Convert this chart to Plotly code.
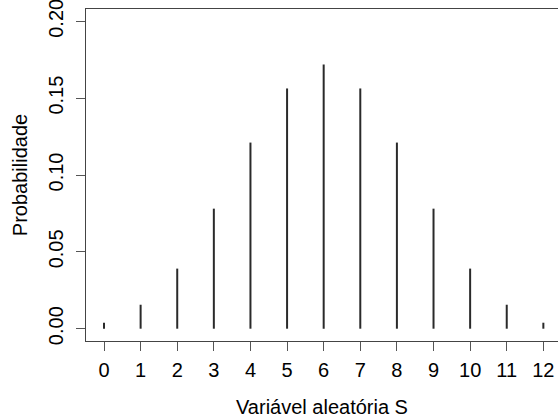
import plotly.graph_objects as go

s_values = [0, 1, 2, 3, 4, 5, 6, 7, 8, 9, 10, 11, 12]
probabilities = [0.0039, 0.0156, 0.0391, 0.0781, 0.1211, 0.1563, 0.1719,
                 0.1563, 0.1211, 0.0781, 0.0391, 0.0156, 0.0039]
y_ticks = [0.00, 0.05, 0.10, 0.15, 0.20]
y_tick_labels = ["0.00", "0.05", "0.10", "0.15", "0.20"]
x_title = "Variável aleatória S"
y_title = "Probabilidade"

# build stems (type="h") as one line trace with gaps
xs, ys = [], []
for x, p in zip(s_values, probabilities):
    xs += [x, x, None]
    ys += [0, p, None]

fig = go.Figure()
fig.add_trace(go.Scatter(x=xs, y=ys, mode="lines",
                         line=dict(color="#2a2a2a", width=2),
                         showlegend=False, hoverinfo="skip"))

font = dict(family="Liberation Sans, Arial, sans-serif", size=20, color="#000000")

fig.update_layout(
    width=558, height=418,
    margin=dict(l=86, r=0, t=9, b=77),
    paper_bgcolor="white", plot_bgcolor="white",
    font=font,
    xaxis=dict(
        range=[-0.4917, 12.40],
        tickmode="array", tickvals=s_values, ticktext=[str(v) for v in s_values],
        ticks="outside", ticklen=9, tickwidth=1, tickcolor="#555555",
        showline=True, linecolor="#444444", linewidth=1, mirror=True,
        showgrid=False, zeroline=False,
        ticklabelstandoff=2, ticklabeloverflow="allow",
        title=dict(text=x_title, standoff=22, font=font),
        automargin=False,
    ),
    yaxis=dict(
        range=[-0.008, 0.208],
        tickmode="array", tickvals=y_ticks, ticktext=y_tick_labels,
        ticks="outside", ticklen=9, tickwidth=1, tickcolor="#555555",
        tickangle=-90,
        showline=True, linecolor="#444444", linewidth=1, mirror=False,
        showgrid=False, zeroline=False,
        ticklabelstandoff=5, ticklabeloverflow="allow",
        title=dict(text=y_title, standoff=12, font=font),
        automargin=False,
    ),
)

fig.write_html("out.html",
               config={"displayModeBar": False, "staticPlot": True},
               post_script="document.body.style.margin='0';document.body.style.overflow='hidden';")
